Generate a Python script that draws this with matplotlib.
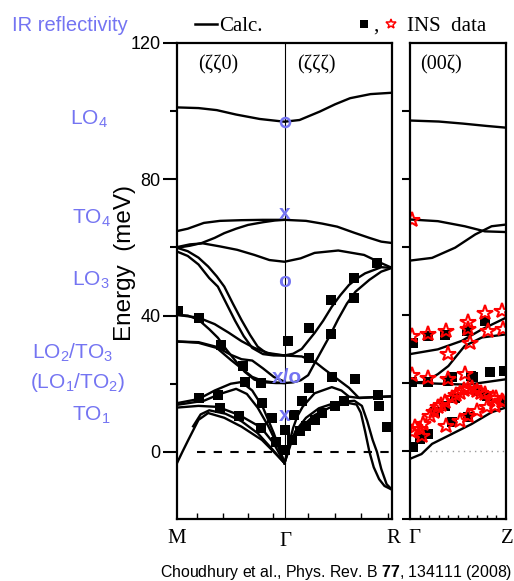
import matplotlib
matplotlib.use('Agg')
import matplotlib.pyplot as plt
from matplotlib.lines import Line2D

plt.rcParams['font.family'] = ['Liberation Sans', 'DejaVu Sans']
plt.rcParams['mathtext.fontset'] = 'custom'
plt.rcParams['mathtext.rm'] = 'Liberation Sans'
plt.rcParams['mathtext.bf'] = 'Liberation Sans:bold'
SERIF = ['Liberation Serif', 'DejaVu Serif']
BLUE = '#7474F2'

# ---- branches calculées, M-Gamma-R (q : 0=M, 1=Gamma, 2=R), énergie en meV
lo4 = [(0, 101.1), (0.2, 100.9), (0.37, 100.3), (0.55, 99), (0.77, 97.7), (1.0, 96.9),
       (1.14, 97.4), (1.33, 99.9), (1.47, 102), (1.61, 103.8), (1.8, 105), (2.0, 105.4)]
to4_a = [(0, 64.8), (0.1, 65.5), (0.25, 67.2), (0.4, 67.8), (0.6, 68), (0.8, 68.1), (1.0, 68.1),
         (1.2, 67.8), (1.35, 67), (1.49, 66.1), (1.65, 64.3), (1.79, 62.8), (1.9, 61.7), (2.0, 61.3)]
to4_b = [(0, 59.9), (0.12, 60.5), (0.23, 61.3), (0.35, 62.8), (0.44, 64.2), (0.55, 65.5),
         (0.66, 66.6), (0.8, 67.4), (0.91, 67.9), (1.0, 68.1)]
lo3 = [(0, 60.1), (0.12, 60.9), (0.24, 61.2), (0.4, 60.3), (0.56, 59.3), (0.72, 57.8), (0.86, 56.3),
       (1.0, 55.8), (1.15, 56.8), (1.28, 58.4), (1.5, 59.1), (1.74, 57.8), (1.9, 55.4), (2.0, 54.0)]
f1 = [(0, 59.9), (0.1, 58.9), (0.2, 57), (0.29, 54.4), (0.37, 51.5), (0.44, 48.5), (0.52, 43.5),
      (0.6, 38.7), (0.68, 34.3), (0.75, 30.9), (0.83, 29), (0.91, 28.5), (1.0, 28.3),
      (1.08, 28.8), (1.16, 30.2), (1.28, 34.9), (1.36, 38.5), (1.44, 42.6), (1.52, 46), (1.6, 49),
      (1.68, 51), (1.75, 52.4), (1.9, 54.2), (2.0, 54.0)]
f2 = [(0, 58.8), (0.1, 57.5), (0.2, 55), (0.3, 51), (0.38, 48.5), (0.46, 43.5), (0.54, 38.5),
      (0.62, 34), (0.7, 30.5), (0.8, 28.7), (0.9, 28.3), (1.0, 28.3),
      (1.16, 28), (1.28, 26.5), (1.36, 24.5), (1.44, 22.6), (1.52, 20.7), (1.6, 18.8),
      (1.69, 15.9), (1.8, 16), (2.0, 16.3)]
d1 = [(0, 40.2), (0.2, 39.4), (0.35, 37.5), (0.48, 35), (0.6, 32.5), (0.72, 30.5), (0.85, 29),
      (1.0, 28.3)]
d2 = [(0, 40.2), (0.1, 40), (0.2, 38.8), (0.3, 36), (0.38, 33.5), (0.46, 30), (0.55, 26.5),
      (0.63, 23.5), (0.72, 21.2), (0.82, 20.4), (0.92, 20.2), (1.0, 20.2),
      (1.08, 20.4), (1.15, 21), (1.22, 22.5), (1.28, 26), (1.35, 30), (1.42, 34), (1.5, 39),
      (1.58, 43.5), (1.66, 47), (1.79, 50.5), (1.9, 52.9), (2.0, 54.0)]
e1 = [(0, 32.4), (0.2, 32.2), (0.37, 30.8), (0.5, 28.5), (0.6, 27.2), (0.7, 26.8), (0.8, 24.5),
      (0.9, 22), (1.0, 20.6)]
e2 = [(0, 32.4), (0.2, 32), (0.37, 30.5), (0.5, 27), (0.6, 24.5), (0.7, 22), (0.8, 20.8),
      (0.9, 20.4), (1.0, 20.2)]
l1 = [(0, 14.3), (0.2, 15.5), (0.35, 18), (0.5, 20), (0.6, 20.5), (0.7, 18), (0.8, 13),
      (0.9, 5.5), (1.0, -3.3)]
l2 = [(0, 13.8), (0.25, 15), (0.4, 17), (0.55, 18.5), (0.65, 17), (0.75, 13), (0.85, 7.5),
      (0.95, 1), (1.0, -3.3)]
l3 = [(0, 13.0), (0.2, 13.5), (0.38, 13.2), (0.58, 10.8), (0.78, 7.2), (0.9, 2.5), (1.0, -3.3)]
l4 = [(0, -3.3), (0.05, 0), (0.105, 3.5), (0.2, 9.4), (0.29, 11.4), (0.44, 10), (0.6, 7.4),
      (0.79, 3.5), (0.91, -0.3), (1.0, -3.3)]
l5 = [(0.15, 7.5), (0.22, 11), (0.3, 12.2), (0.45, 11.2), (0.6, 9), (0.75, 5.5), (0.88, 1),
      (1.0, -3.3)]
a1 = [(1.0, -3.3), (1.04, 0.5), (1.07, 3.5), (1.16, 7.4), (1.28, 10.8), (1.44, 13.3), (1.6, 14.3),
      (1.67, 13.9), (1.71, 11.5), (1.75, 6), (1.79, 0), (1.83, -4.5), (1.88, -8), (1.93, -10),
      (2.0, -11.1)]
a2 = [(1.0, -3.3), (1.05, 2), (1.1, 6), (1.2, 10), (1.32, 12.8), (1.48, 14.5), (1.65, 15),
      (1.72, 13.5), (1.77, 9), (1.82, 3.5), (1.86, 0), (1.9, -5), (1.95, -9.5), (2.0, -11.1)]
b1 = [(1.0, -3.3), (1.04, 2), (1.08, 7), (1.12, 10.5), (1.17, 13.3), (1.28, 17.2), (1.44, 19),
      (1.53, 18), (1.6, 16.2), (1.7, 15.8), (1.85, 16.1), (2.0, 16.3)]
branches_mgr = [lo4, to4_a, to4_b, lo3, f1, f2, d1, d2, e1, e2, l1, l2, l3, l4, l5, a1, a2, b1]

# ---- branches calculées, Gamma-Z (q : 0=Gamma, 1=Z)
gz_lo4 = [(0, 97.2), (0.3, 96.9), (0.55, 96.3), (0.8, 95.6), (1.0, 95.1)]
gz_r1 = [(0, 68.1), (0.29, 67.6), (0.57, 66.1), (0.78, 64.6), (1.0, 64.4)]
gz_r2 = [(0, 56), (0.23, 56.8), (0.47, 59.8), (0.68, 63.7), (0.85, 66.1), (1.0, 66.6)]
gz_r3 = [(0, 28.5), (0.29, 29.9), (0.54, 32.4), (0.75, 35.8), (1.0, 39.2)]
gz_r4 = [(0, 20.1), (0.15, 20.3), (0.29, 22.6), (0.4, 25), (0.5, 28.5), (0.57, 30.9),
         (0.75, 33.4), (1.0, 34.3)]
gz_r5 = [(0, 20.1), (0.3, 19.8), (0.6, 19.5), (0.8, 20.3), (1.0, 21.1)]
gz_r6 = [(0, -2.3), (0.12, -0.9), (0.23, 2.1), (0.4, 4.5), (0.64, 7.9), (0.85, 11.4), (1.0, 12.8)]
branches_gz = [gz_lo4, gz_r1, gz_r2, gz_r3, gz_r4, gz_r5, gz_r6]

# ---- données INS
ins_sq_main = [(0.01, 41.2), (0.2, 39.4), (0.41, 31.4), (0.61, 25.2), (0.63, 20.6), (0.78, 20.2),
               (0.2, 15.7), (0.38, 16.7), (0.4, 12.8), (0.58, 10.4), (0.79, 14.3), (0.88, 9.9),
               (0.78, 7), (0.92, 3), (1.0, 6.5), (1.0, 0.6),
               (1.03, 32.4), (1.23, 36.4), (1.23, 27.6), (1.23, 18.7), (1.16, 14.8), (1.09, 10.9),
               (1.07, 3.5), (1.14, 6), (1.2, 7.6), (1.28, 9.4), (1.35, 11.4), (1.47, 13.5),
               (1.44, 22.1), (1.43, 34.6), (1.43, 44.6), (1.65, 45.2), (1.65, 51), (1.86, 55.5),
               (1.66, 21.3), (1.55, 14.8), (1.87, 16.7), (1.88, 13.5), (1.95, 7.2)]
ins_sq_gz = [(0.03, 31.9), (0.19, 33.8), (0.36, 34.2), (0.59, 35.3), (0.78, 38.2),
             (0.44, 21.7), (0.64, 22.1), (0.83, 23.1), (0.98, 23.6),
             (0.02, 20.2), (0.19, 20.3), (0.4, 20.5), (0.66, 21.7),
             (0.03, 1.2), (0.1, 3.5), (0.19, 5), (0.26, 11.4), (0.36, 13.3), (0.47, 15.7),
             (0.7, 17.7), (0.8, 16.2), (0.96, 14.3), (0.44, 8.4), (0.6, 9.9)]
ins_star_gz = [(0.02, 67.9), (0.02, 33.8), (0.19, 34.3), (0.38, 35.3), (0.6, 37.8), (0.78, 40.7),
               (0.96, 41.2), (0.6, 35.8), (0.81, 35.3), (0.97, 35.8), (0.62, 31.9), (0.4, 28.5),
               (0.57, 22.6), (0.4, 21.1), (0.19, 21.6), (0.02, 22.3),
               (0.05, 7), (0.1, 6.5), (0.14, 7.9), (0.21, 10.4), (0.25, 11.5), (0.29, 12.8),
               (0.32, 13.5), (0.36, 14.3), (0.44, 15.7), (0.48, 16.5), (0.52, 17.2), (0.56, 17.8),
               (0.6, 18.2), (0.65, 18.5), (0.7, 17.7), (0.74, 17), (0.78, 16.7), (0.86, 15.7),
               (0.9, 15.5), (0.96, 14.8), (0.02, 5.5), (0.12, 4.5), (0.38, 7.4), (0.52, 8.9),
               (0.6, 10.4), (0.7, 11.8), (0.8, 12.8), (0.89, 13.3), (0.97, 14.3)]

# ---- modes IR au point Gamma
ir_labels = ['LO$_4$', 'TO$_4$', 'LO$_3$', 'LO$_2$/TO$_3$', '(LO$_1$/TO$_2$)', 'TO$_1$']
ir_marks = [('x', 70.1), ('o', 50.2), ('x/o', 22.0), ('x', 10.9)]
ir_lo4 = 96.9

fig = plt.figure(figsize=(5.14, 5.81), dpi=100)
W, H = 514, 581
ax = fig.add_axes([177 / W, 1 - 519 / H, (392 - 177) / W, (519 - 43) / H])
ax2 = fig.add_axes([410 / W, 1 - 519 / H, (506 - 410) / W, (519 - 43) / H])

for br in branches_mgr:
    ax.plot([p[0] for p in br], [p[1] for p in br], 'k-', lw=1.7, solid_joinstyle='round')
for br in branches_gz:
    ax2.plot([p[0] for p in br], [p[1] for p in br], 'k-', lw=1.7, solid_joinstyle='round')

ax.axvline(1, color='k', lw=0.8)
ax.plot([0.185, 2], [0, 0], 'k--', lw=1.5, dashes=(4, 4))
ax2.plot([0.21, 1], [0, 0], color='0.6', lw=1, ls=(0, (1, 3)))

ax.plot([p[0] for p in ins_sq_main], [p[1] for p in ins_sq_main], 's', color='k', ms=6.5, mew=0)
ax2.plot([p[0] for p in ins_sq_gz], [p[1] for p in ins_sq_gz], 's', color='k', ms=6.5, mew=0)
ax2.plot([p[0] for p in ins_star_gz], [p[1] for p in ins_star_gz], '*', mfc='none', mec='red',
         ms=11.5, mew=1.5)

# marqueurs IR
ax.plot([1], [ir_lo4], 'o', mfc='none', mec=BLUE, ms=6.5, mew=1.8, zorder=5)
for txt, e in ir_marks:
    ax.text(1.0 if txt != 'x/o' else 1.02, e - 1.8, txt, color=BLUE, fontsize=15,
            fontweight='bold', ha='center', va='baseline', zorder=5)

for a in (ax, ax2):
    a.set_ylim(-19.7, 120)
    for s in a.spines.values():
        s.set_linewidth(1.6)
ax.set_xlim(0, 2)
ax2.set_xlim(0, 1)

ax.set_yticks([0, 40, 80, 120])
ax.set_yticks([20, 60, 100], minor=True)
ax.tick_params(axis='y', which='major', direction='out', length=10, width=1.5, labelsize=13, pad=2)
ax.tick_params(axis='y', which='minor', direction='out', length=5, width=1.5)
ax.set_xticks([0.185, 0.426, 0.657, 0.889, 1.215, 1.467, 1.71, 1.963])
ax.tick_params(axis='x', direction='in', length=4, width=1, labelbottom=False)

ax2.set_yticks([-20, 0, 20, 40, 60, 80, 100])
ax2.tick_params(axis='y', direction='out', length=6, width=1.5, labelleft=False)
ax2.set_xticks([0.1 * i for i in range(1, 10)])
ax2.tick_params(axis='x', direction='in', length=3, width=1, labelbottom=False)

ax.text(0.38, 116.5, '(ζζ0)', family=SERIF, fontsize=14.5, ha='center', va='top')
ax.text(1.3, 116.5, '(ζζζ)', family=SERIF, fontsize=14.5, ha='center', va='top')
ax2.text(0.32, 116.5, '(00ζ)', family=SERIF, fontsize=14.5, ha='center', va='top')


def fx(x):
    return x / W


def fy(y):
    return 1 - y / H


# étiquettes des points de haute symétrie
for lab, x, y in [('M', 177, 543), ('Γ', 285, 546), ('R', 393, 543), ('Γ', 414, 543), ('Z', 507, 543)]:
    fig.text(fx(x), fy(y), lab, family=SERIF, fontsize=15, ha='center', va='baseline')

# modes IR à gauche
for lab, x, y in zip(ir_labels, [70, 72, 72, 32, 30, 72], [124, 223, 285, 358, 388, 420]):
    fig.text(fx(x), fy(y), lab, color=BLUE, fontsize=15, ha='left', va='baseline')

fig.text(fx(125), fy(263), 'Energy  (meV)', fontsize=17.5, rotation=90, ha='center', va='center')

# en-tête
fig.text(fx(12), fy(31), 'IR reflectivity', color=BLUE, fontsize=14.5, ha='left', va='baseline')
fig.add_artist(Line2D([fx(195), fx(217)], [fy(24), fy(24)], color='k', lw=1.8))
fig.text(fx(219), fy(31), 'Calc.', family=SERIF, fontsize=15, ha='left', va='baseline')
fig.add_artist(Line2D([fx(363.5)], [fy(24)], marker='s', color='k', ms=5.5, mew=0))
fig.text(fx(376), fy(31), ',', family=SERIF, fontsize=15, ha='center', va='baseline')
fig.add_artist(Line2D([fx(391)], [fy(24)], marker='*', mfc='none', mec='red', ms=7.5, mew=1.1))
fig.text(fx(407), fy(31), 'INS  data', family=SERIF, fontsize=15, ha='left', va='baseline')

fig.text(fx(512), fy(577), 'Choudhury et al., Phys. Rev. B $\\mathbf{77}$, 134111 (2008)',
         fontsize=11.4, ha='right', va='baseline')

fig.savefig('out.png', dpi=100)
